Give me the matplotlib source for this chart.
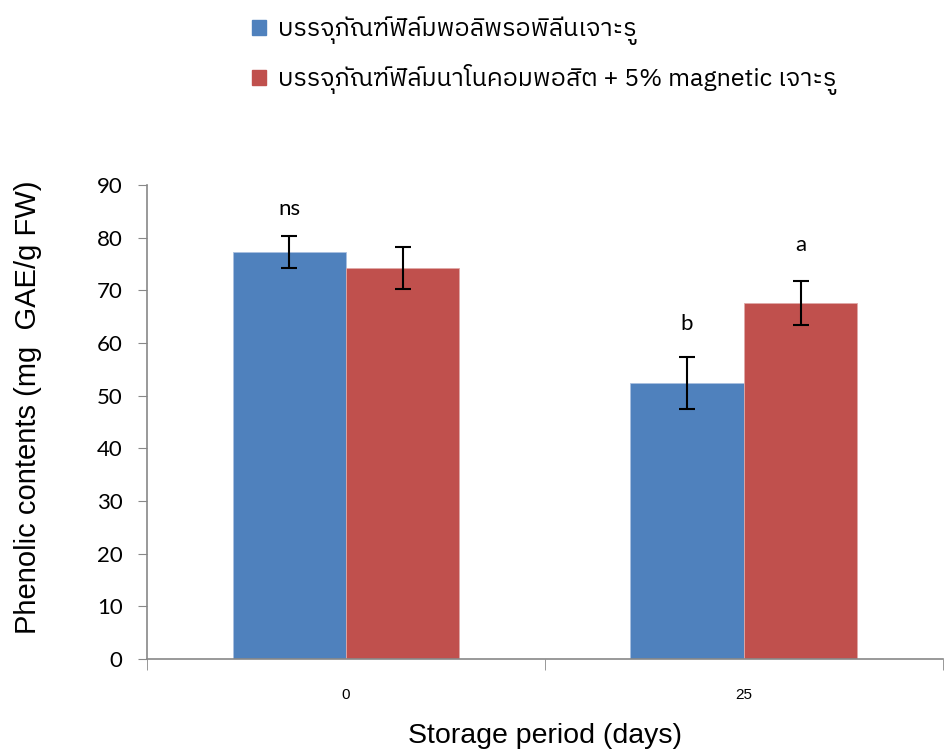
import numpy as np
import matplotlib
matplotlib.use('Agg')
import matplotlib.pyplot as plt
from matplotlib import font_manager
from matplotlib.patches import Patch
from fontTools.ttLib import TTFont

days = ['0', '25']
pe_film = [77.3, 52.4]
pe_err = [3.0, 5.0]
nano_film = [74.2, 67.6]
nano_err = [4.0, 4.2]
letters_pe = ['ns', 'b']
letters_nano = ['', 'a']
labels = ['บรรจุภัณฑ์ฟิล์มพอลิพรอพิลีนเจาะรู',
          'บรรจุภัณฑ์ฟิล์มนาโนคอมพอสิต + 5% magnetic เจาะรู']


# find a font that has thai glyphs
thai = None
for f in font_manager.fontManager.ttflist:
    try:
        cmap = TTFont(f.fname, fontNumber=0, lazy=True).getBestCmap()
    except Exception:
        continue
    if cmap and 0x0E1A in cmap and 0x0E31 in cmap:
        thai = f.name
        if 'Sans' in f.name:
            break
fams = ([thai] if thai else []) + ['Liberation Sans', 'DejaVu Sans']
plt.rcParams['font.family'] = fams

fig = plt.figure(figsize=(9.45, 7.54), dpi=100)
ax = fig.add_axes([0.1556, 0.126, 0.842, 0.6286])

x = np.arange(len(days))
w = 0.285
ax.bar(x - w/2, pe_film, w, color='#4f81bd', edgecolor='#a9c0e0', linewidth=0.6)
ax.bar(x + w/2, nano_film, w, color='#c0504d', edgecolor='#e0a9a8', linewidth=0.6)
ax.errorbar(x - w/2, pe_film, yerr=pe_err, fmt='none', ecolor='black', elinewidth=1.5, capsize=6, capthick=1.5)
ax.errorbar(x + w/2, nano_film, yerr=nano_err, fmt='none', ecolor='black', elinewidth=1.5, capsize=6, capthick=1.5)

for i in range(len(days)):
    if letters_pe[i]:
        off = 5.2 if letters_pe[i] == 'ns' else 6.3
        ax.text(x[i] - w/2, pe_film[i] + pe_err[i] + off, letters_pe[i], ha='center', va='center',
                fontsize=16, family=['Lato', 'DejaVu Sans'])
    if letters_nano[i]:
        ax.text(x[i] + w/2, nano_film[i] + nano_err[i] + 6.8, letters_nano[i], ha='center', va='center',
                fontsize=16, family=['Lato', 'DejaVu Sans'])

ax.set_xlim(-0.5, 1.5)
ax.set_ylim(0, 90)
ax.set_yticks(range(0, 91, 10))
ax.set_xticks(x)
ax.set_xticklabels(days, fontsize=11, family=['Liberation Sans Narrow', 'Liberation Sans'])
ax.set_xticks([-0.5, 0.5, 1.5], minor=True)
ax.tick_params(axis='x', which='major', length=0, pad=21)
ax.tick_params(axis='x', which='minor', length=8, color='#888888', direction='out')
ax.tick_params(axis='y', length=6.5, color='#888888', labelsize=16, pad=11)
for t in ax.get_yticklabels():
    t.set_family(['Lato', 'DejaVu Sans'])
for s in ['top', 'right']:
    ax.spines[s].set_visible(False)
for s in ['left', 'bottom']:
    ax.spines[s].set_color('#888888')
    ax.spines[s].set_linewidth(1.2)

ax.set_ylabel('Phenolic contents (mg  GAE/g FW)', fontsize=21,
              family=['Liberation Sans', 'DejaVu Sans'])
ax.yaxis.set_label_coords(-0.132, 0.532)
ax.set_xlabel('Storage period (days)', fontsize=20.5, labelpad=15,
              family=['Liberation Sans', 'DejaVu Sans'])

handles = [Patch(color='#4f81bd'), Patch(color='#c0504d')]
fig.legend(handles, labels, loc='upper left', bbox_to_anchor=(0.243, 1.008), frameon=False,
           fontsize=18, handlelength=0.55, handleheight=0.55, handletextpad=0.5, labelspacing=0.75)

fig.savefig('out.png', dpi=100)
